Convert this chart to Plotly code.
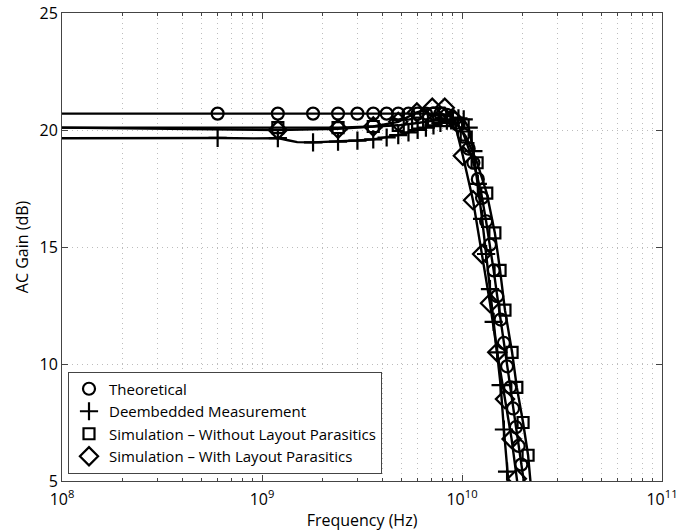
import plotly.graph_objects as go

# ---- data (frequency in GHz, gain in dB) ----
theo_f = [0.6, 1.2, 1.8, 2.4, 3.0, 3.6, 4.2, 4.8, 5.4, 6.0, 6.6, 7.2, 7.8, 8.4, 9.0, 9.6,
          10.2, 10.8, 11.4, 12.0, 12.6, 13.2, 13.8, 14.4, 15.0, 15.6, 16.2, 16.8, 17.4,
          18.0, 18.6, 19.2, 19.8]
theo_g = [20.7, 20.7, 20.7, 20.7, 20.7, 20.7, 20.7, 20.7, 20.7, 20.7, 20.7, 20.7, 20.7,
          20.65, 20.5, 20.2, 19.8, 19.2, 18.6, 17.9, 17.1, 16.1, 15.1, 14.0, 12.9, 11.9,
          10.9, 9.9, 9.0, 8.1, 7.3, 6.5, 5.7]
theo_line_f = [0.1] + theo_f + [20.6]
theo_line_g = [20.7] + theo_g + [4.7]

meas_f = [0.6, 1.2, 1.8, 2.4, 3.0, 3.6, 4.2, 4.8, 5.4, 6.0, 6.6, 7.2, 7.8, 8.4, 9.0, 9.6,
          10.2, 10.8, 11.4, 12.0, 12.6, 13.2, 13.8, 14.4, 15.0, 15.6, 16.2, 16.8]
meas_g = [19.66, 19.65, 19.47, 19.5, 19.55, 19.6, 19.68, 19.78, 19.9, 20.0, 20.1, 20.2,
          20.3, 20.4, 20.45, 20.5, 20.45, 20.1, 19.1, 17.7, 16.2, 14.7, 13.2, 11.8, 10.5,
          9.1, 7.2, 5.4]
meas_line_f = [0.1, 0.3, 0.6, 0.9, 1.2, 1.35, 1.5, 1.8, 2.1, 2.4, 3.0, 3.6, 4.2, 4.8, 5.4,
               6.0, 6.6, 7.2, 7.8, 8.4, 9.0, 9.6, 10.2, 10.8, 11.4, 12.0, 12.6, 13.2, 13.8,
               14.4, 15.0, 15.6, 16.2, 16.8, 17.2]
meas_line_g = [19.65, 19.67, 19.66, 19.64, 19.65, 19.56, 19.48, 19.47, 19.49, 19.5, 19.55,
               19.6, 19.68, 19.78, 19.9, 20.0, 20.1, 20.2, 20.3, 20.4, 20.45, 20.5, 20.45,
               20.1, 19.1, 17.7, 16.2, 14.7, 13.2, 11.8, 10.5, 9.1, 7.2, 5.4, 4.6]

sq_f = [1.2, 2.4, 3.6, 4.8, 6.0, 7.2, 8.4, 9.4, 10.5, 11.9, 13.3, 14.6, 15.5, 16.4, 17.8,
        18.8, 20.2, 21.4]
sq_g = [20.1, 20.1, 20.15, 20.2, 20.3, 20.4, 20.4, 20.3, 19.7, 18.6, 17.3, 15.6, 14.0,
        12.3, 10.5, 9.0, 7.5, 6.1]
sq_line_f = [0.1] + sq_f + [22.2]
sq_line_g = [20.1] + sq_g + [4.6]

dia_f = [1.2, 2.4, 3.6, 4.8, 5.95, 7.1, 8.2, 9.1, 10.1, 11.35, 12.6, 13.8, 15.0, 16.4,
         17.7, 18.8]
dia_g = [20.0, 20.05, 20.15, 20.35, 20.75, 20.95, 20.95, 20.45, 18.9, 17.0, 14.7, 12.6,
         10.5, 8.5, 6.8, 5.1]
dia_line_f = [0.1] + dia_f + [19.3]
dia_line_g = [20.1] + dia_g + [4.3]

legend_names = ["Theoretical", "Deembedded Measurement",
                "Simulation \u2013 Without Layout Parasitics",
                "Simulation \u2013 With Layout Parasitics"]

x_tickvals = [1e8, 1e9, 1e10, 1e11]
x_ticktext = ["10<sup>8</sup>", "10<sup>9</sup>", "10<sup>10</sup>", "10<sup>11</sup>"]
y_tickvals = [5, 10, 15, 20, 25]


def hz(lst):
    return [v * 1e9 for v in lst]


FONT = "Open Sans, Lato, DejaVu Sans, sans-serif"
LW = 2.4
GRID = "#bdbdbd"
DOTS = "1px,4px"

fig = go.Figure()

series = [
    (theo_line_f, theo_line_g, theo_f, theo_g, "circle-open", 12, legend_names[0]),
    (meas_line_f, meas_line_g, meas_f, meas_g, "cross-thin-open", 13, legend_names[1]),
    (sq_line_f, sq_line_g, sq_f, sq_g, "square-open", 11, legend_names[2]),
    (dia_line_f, dia_line_g, dia_f, dia_g, "diamond-open", 14, legend_names[3]),
]

for lf, lg, mf, mg, sym, size, name in series:
    fig.add_trace(go.Scatter(x=hz(lf), y=lg, mode="lines",
                             line=dict(color="black", width=LW),
                             showlegend=False, hoverinfo="skip"))
    fig.add_trace(go.Scatter(x=hz(mf), y=mg, mode="markers", name=name,
                             marker=dict(symbol=sym, size=size, color="black",
                                         line=dict(color="black", width=2.2))))

axis_common = dict(
    showline=True, linecolor="#444", linewidth=1, mirror="ticks",
    ticks="inside", tickcolor="#444", ticklen=6,
    showgrid=True, gridcolor=GRID, griddash=DOTS, gridwidth=1,
    zeroline=False, automargin=False,
    tickfont=dict(family=FONT, size=16, color="black"),
)

fig.update_layout(
    width=684, height=531,
    margin=dict(l=62, r=22, t=13, b=50),
    paper_bgcolor="white", plot_bgcolor="white",
    font=dict(family=FONT, size=16, color="black"),
    xaxis=dict(type="log", range=[8, 11], tickvals=x_tickvals, ticktext=x_ticktext,
               ticklabelstandoff=4,
               title=dict(text="Frequency (Hz)", font=dict(family=FONT, size=16),
                          standoff=6),
               minor=dict(showgrid=True, gridcolor=GRID, griddash=DOTS,
                          ticks="inside", ticklen=3, tickcolor="#444", dtick="D1"),
               **axis_common),
    yaxis=dict(range=[5, 25], tickvals=y_tickvals,
               title=dict(text="AC Gain (dB)", font=dict(family=FONT, size=16),
                          standoff=6),
               **axis_common),
    legend=dict(x=0.01, y=0.016, xanchor="left", yanchor="bottom",
                bgcolor="white", bordercolor="#444", borderwidth=1,
                font=dict(family=FONT, size=15, color="black"),
                itemwidth=30, tracegroupgap=0),
)

fig.write_html("out.html")
